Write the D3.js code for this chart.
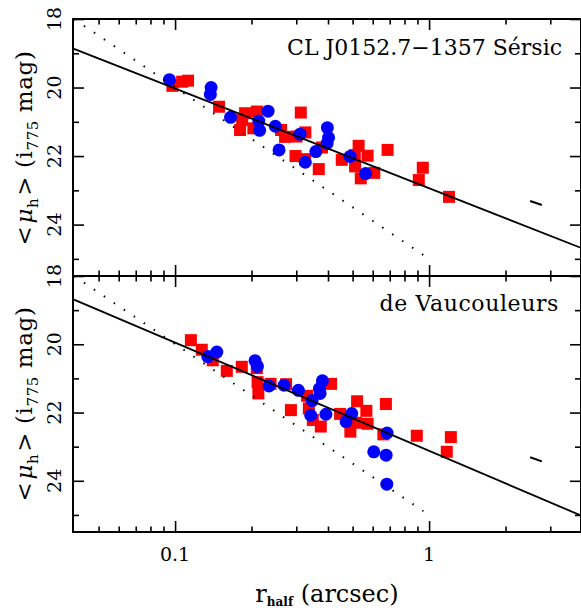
<!DOCTYPE html>
<html>
<head>
<meta charset="utf-8">
<script src="https://cdn.jsdelivr.net/npm/d3@7"></script>
<style>
  body { margin: 0; background: #fff; }
  svg { display: block; font-family: "DejaVu Serif", serif; }
  .frame { fill: none; stroke: #000; stroke-width: 2; }
  .axis path { display: none; }
  .axis line { stroke: #000; stroke-width: 1.6; }
</style>
</head>
<body>
<svg id="chart" width="581" height="612"></svg>
<script>
// Sersic panel (top)
var sersicRedR  = [0.0976, 0.1066, 0.1125, 0.149, 0.1886, 0.2098, 0.1836, 0.1803, 0.2033, 0.2614,
                   0.2711, 0.3125, 0.3008, 0.3258, 0.298, 0.3249, 0.3679, 0.379, 0.4532, 0.528,
                   0.51, 0.5727, 0.5113, 0.5384, 0.6085, 0.6866, 0.9445, 0.911, 1.198];
var sersicRedMu = [19.95, 19.83, 19.80, 20.56, 20.75, 20.70, 20.95, 21.24, 21.19, 21.24,
                   21.44, 20.73, 21.43, 21.31, 22.00, 22.09, 22.38, 21.75, 22.11, 21.70,
                   21.97, 21.99, 22.30, 22.65, 22.49, 21.82, 22.34, 22.70, 23.19];
var sersicBlueR  = [0.0950, 0.1386, 0.1377, 0.1654, 0.2323, 0.2136, 0.2152, 0.2482, 0.2567, 0.3105,
                    0.3977, 0.402, 0.3967, 0.3583, 0.3255, 0.4887, 0.5623];
var sersicBlueMu = [19.77, 20.00, 20.20, 20.87, 20.69, 20.98, 21.25, 21.13, 21.82, 21.36,
                    21.17, 21.46, 21.63, 21.87, 22.18, 22.01, 22.51];
var sersicFitR  = [0.04, 4];
var sersicFitMu = [18.87, 24.69];

// de Vaucouleurs panel (bottom)
var devRedR  = [0.1154, 0.1274, 0.1407, 0.1598, 0.1831, 0.2098, 0.2113, 0.2128, 0.2377, 0.2735,
                0.2858, 0.3309, 0.3363, 0.3487, 0.3747, 0.4113, 0.4463, 0.4899, 0.5208, 0.516,
                0.5664, 0.5727, 0.6761, 0.6607, 0.8946, 1.218, 1.174];
var devRedMu = [19.88, 20.16, 20.47, 20.78, 20.66, 20.70, 21.11, 21.44, 21.16, 21.17,
                21.93, 21.51, 21.88, 22.22, 22.41, 21.16, 22.04, 22.56, 21.67, 22.30,
                21.95, 22.33, 21.75, 22.64, 22.68, 22.72, 23.15];
var devBlueR  = [0.1345, 0.146, 0.2065, 0.2109, 0.2344, 0.2686, 0.3058, 0.3802, 0.37, 0.3724,
                 0.3462, 0.3421, 0.3924, 0.4961, 0.4711, 0.6835, 0.6057, 0.6774, 0.6817];
var devBlueMu = [20.36, 20.23, 20.48, 20.65, 21.22, 21.20, 21.35, 21.07, 21.30, 21.44,
                 21.65, 22.08, 22.05, 22.03, 22.27, 22.60, 23.15, 23.25, 24.10];
var devFitR  = [0.04, 4];
var devFitMu = [18.69, 25.03];

// surface brightness limit (dotted) and typical error bar, same in both panels
var limitR  = [0.04, 0.95];
var limitMu = [18.0, 24.89];
var errR  = [2.5, 2.78];
var errMu = [23.31, 23.43];

// tick values and labels
var xMajorTicks = [0.1, 1];
var xMinorTicks = [0.05, 0.06, 0.07, 0.08, 0.09, 0.2, 0.3, 0.4, 0.5, 0.6, 0.7, 0.8, 0.9, 2, 3];
var xTickLabels = ['0.1', '1'];
var yMajorTicks = [18, 20, 22, 24];
var yMinorTicks = [19, 21, 23, 25];
var panelTitles = ['CL J0152.7\u22121357 S\u00e9rsic', 'de Vaucouleurs'];

var svg = d3.select('#chart');
var margin = {l: 73, r: 581};

var xScale = d3.scaleLog()
    .domain([0.04, 4])
    .range([74, 582]);

var panels = [
    {top: 19, bottom: 276, red: [sersicRedR, sersicRedMu], blue: [sersicBlueR, sersicBlueMu],
     fit: [sersicFitR, sersicFitMu], title: panelTitles[0], titleX: 562, titleY: 55, labelY: 148},
    {top: 276, bottom: 532, red: [devRedR, devRedMu], blue: [devBlueR, devBlueMu],
     fit: [devFitR, devFitMu], title: panelTitles[1], titleX: 559, titleY: 311, labelY: 404}
];

function zip(a, b) {
    return a.map(function(d, i) { return [d, b[i]]; });
}

panels.forEach(function(p, pi) {
    var yScale = d3.scaleLinear()
        .domain([18, 25.5])
        .range([p.top, p.bottom]);

    var clipId = 'clip' + pi;
    svg.append('clipPath').attr('id', clipId)
        .append('rect')
        .attr('x', margin.l).attr('y', p.top)
        .attr('width', margin.r - margin.l).attr('height', p.bottom - p.top);

    var g = svg.append('g').attr('clip-path', 'url(#' + clipId + ')');

    // red squares
    g.selectAll('.sq')
        .data(zip(p.red[0], p.red[1]))
        .enter().append('rect')
        .attr('class', 'sq')
        .attr('x', function(d) { return xScale(d[0]) - 6; })
        .attr('y', function(d) { return yScale(d[1]) - 6; })
        .attr('width', 12).attr('height', 12)
        .attr('fill', '#ff0000');

    // blue circles
    g.selectAll('.dot')
        .data(zip(p.blue[0], p.blue[1]))
        .enter().append('circle')
        .attr('class', 'dot')
        .attr('cx', function(d) { return xScale(d[0]); })
        .attr('cy', function(d) { return yScale(d[1]); })
        .attr('r', 6.5)
        .attr('fill', '#0000ff');

    var line = d3.line()
        .x(function(d) { return xScale(d[0]); })
        .y(function(d) { return yScale(d[1]); });

    g.append('path')
        .datum(zip(limitR, limitMu))
        .attr('d', line)
        .attr('fill', 'none').attr('stroke', '#000')
        .attr('stroke-width', 2).attr('stroke-dasharray', '1.5,10.5');

    g.append('path')
        .datum(zip(p.fit[0], p.fit[1]))
        .attr('d', line)
        .attr('fill', 'none').attr('stroke', '#000').attr('stroke-width', 1.8);

    g.append('path')
        .datum(zip(errR, errMu))
        .attr('d', line)
        .attr('fill', 'none').attr('stroke', '#000').attr('stroke-width', 2);

    // ticks, all pointing inward
    function xAxes(vals, len) {
        svg.append('g').attr('class', 'axis')
            .attr('transform', 'translate(0,' + p.bottom + ')')
            .call(d3.axisBottom(xScale).tickValues(vals).tickSize(-len).tickFormat(''));
        svg.append('g').attr('class', 'axis')
            .attr('transform', 'translate(0,' + p.top + ')')
            .call(d3.axisTop(xScale).tickValues(vals).tickSize(-len).tickFormat(''));
    }
    xAxes(xMajorTicks, 11);
    xAxes(xMinorTicks, 5.5);

    function yAxes(vals, len) {
        svg.append('g').attr('class', 'axis')
            .attr('transform', 'translate(' + margin.l + ',0)')
            .call(d3.axisLeft(yScale).tickValues(vals).tickSize(-len).tickFormat(''));
        svg.append('g').attr('class', 'axis')
            .attr('transform', 'translate(' + margin.r + ',0)')
            .call(d3.axisRight(yScale).tickValues(vals).tickSize(-len).tickFormat(''));
    }
    yAxes(yMajorTicks, 11);
    yAxes(yMinorTicks, 6);

    // rotated y tick labels
    svg.append('g').selectAll('text')
        .data(yMajorTicks)
        .enter().append('text')
        .attr('transform', function(d) {
            return 'translate(' + (margin.l - 12) + ',' + yScale(d) + ') rotate(-90)';
        })
        .attr('text-anchor', 'middle')
        .attr('font-size', 19)
        .text(function(d) { return d; });

    svg.append('rect').attr('class', 'frame')
        .attr('x', margin.l).attr('y', p.top)
        .attr('width', margin.r - margin.l).attr('height', p.bottom - p.top);

    svg.append('text')
        .attr('x', p.titleX).attr('y', p.titleY)
        .attr('text-anchor', 'end')
        .attr('font-size', 22)
        .attr('letter-spacing', pi === 1 ? 0.6 : 0)
        .text(p.title);

    // y axis title
    var yl = svg.append('text')
        .attr('transform', 'translate(32,' + p.labelY + ') rotate(-90)')
        .attr('text-anchor', 'middle')
        .attr('font-size', 23)
        .attr('letter-spacing', 0.6);
    yl.append('tspan').text('<');
    yl.append('tspan').attr('font-style', 'italic').attr('dx', 2).text('\u03bc');
    yl.append('tspan').attr('font-size', 15).attr('dy', 6).text('h');
    yl.append('tspan').attr('dy', -6).attr('dx', 2).text('> (i');
    yl.append('tspan').attr('font-size', 15).attr('dy', 6).text('775');
    yl.append('tspan').attr('dy', -6).text(' mag)');
});

// x tick labels on the bottom axis
svg.append('g').selectAll('text')
    .data(xMajorTicks)
    .enter().append('text')
    .attr('x', function(d) { return xScale(d); })
    .attr('y', 561)
    .attr('text-anchor', 'middle')
    .attr('font-size', 19)
    .text(function(d, i) { return xTickLabels[i]; });

var xl = svg.append('text')
    .attr('x', 327).attr('y', 602)
    .attr('text-anchor', 'middle')
    .attr('font-size', 24);
xl.append('tspan').text('r');
xl.append('tspan').attr('font-size', 12).attr('font-weight', 'bold').attr('dy', 4).text('half');
xl.append('tspan').attr('dy', -4).text(' (arcsec)');
</script>
</body>
</html>
